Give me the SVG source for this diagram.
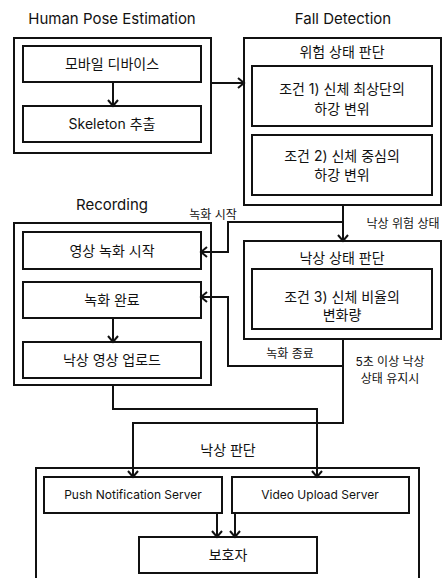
<svg xmlns="http://www.w3.org/2000/svg" width="446" height="578" viewBox="0 0 446 578">
  <style>
    .box { fill: #fff; stroke: #111; stroke-width: 2; }
    .grp { fill: none; stroke: #111; stroke-width: 2; }
    .wire { fill: none; stroke: #111; stroke-width: 2; }
    text { font-family: "Inter", "Noto Sans CJK KR", sans-serif; fill: #111; text-anchor: middle; }
    .h { font-size: 15px; }
    .t { font-size: 14px; }
    .s { font-size: 12px; }
  </style>
  <defs>
    <marker id="arr" markerWidth="12" markerHeight="12" refX="10" refY="6" orient="auto" markerUnits="userSpaceOnUse">
      <path d="M4,1 L10,6 L4,11" fill="none" stroke="#111" stroke-width="2"/>
    </marker>
  </defs>

  <rect width="446" height="578" fill="#fff"/>

  <!-- Human Pose Estimation -->
  <g id="hpe">
    <text class="h" x="112" y="24">Human Pose Estimation</text>
    <rect class="grp" x="14" y="38" width="197" height="115"/>
  </g>
  <g id="mobile">
    <rect class="box" x="23" y="46" width="178" height="36"/>
    <text class="t" x="112" y="69">모바일 디바이스</text>
  </g>
  <g id="skeleton">
    <rect class="box" x="23" y="106" width="178" height="36"/>
    <text class="t" x="112" y="129">Skeleton 추출</text>
  </g>

  <!-- Fall Detection -->
  <g id="fall-detection">
    <text class="h" x="343" y="24">Fall Detection</text>
    <rect class="grp" x="244" y="38" width="197" height="167"/>
    <text class="t" x="342" y="57">위험 상태 판단</text>
  </g>
  <g id="cond1">
    <rect class="box" x="252" y="66" width="180" height="60"/>
    <text class="t" x="342" y="94">조건 1) 신체 최상단의</text>
    <text class="t" x="342" y="114">하강 변위</text>
  </g>
  <g id="cond2">
    <rect class="box" x="252" y="135" width="180" height="60"/>
    <text class="t" x="342" y="161">조건 2) 신체 중심의</text>
    <text class="t" x="342" y="180">하강 변위</text>
  </g>

  <!-- Fall state judgement -->
  <g id="fall-state">
    <rect class="grp" x="244" y="241" width="197" height="98"/>
    <text class="t" x="342" y="263">낙상 상태 판단</text>
  </g>
  <g id="cond3">
    <rect class="box" x="252" y="269" width="180" height="60"/>
    <text class="t" x="342" y="302">조건 3) 신체 비율의</text>
    <text class="t" x="342" y="320">변화량</text>
  </g>

  <!-- Recording -->
  <g id="recording">
    <text class="h" x="112" y="210">Recording</text>
    <rect class="grp" x="14" y="223" width="197" height="162"/>
  </g>
  <g id="rec-start">
    <rect class="box" x="23" y="232" width="178" height="37"/>
    <text class="t" x="112" y="256">영상 녹화 시작</text>
  </g>
  <g id="rec-done">
    <rect class="box" x="23" y="282" width="178" height="36"/>
    <text class="t" x="112" y="305">녹화 완료</text>
  </g>
  <g id="upload">
    <rect class="box" x="23" y="342" width="178" height="36"/>
    <text class="t" x="112" y="365">낙상 영상 업로드</text>
  </g>

  <!-- Fall decision -->
  <g id="decision">
    <text class="t" x="228" y="455">낙상 판단</text>
    <rect class="grp" x="36" y="468" width="383" height="125"/>
  </g>
  <g id="push">
    <rect class="box" x="44" y="477" width="178" height="36"/>
    <text class="s" x="133" y="499">Push Notification Server</text>
  </g>
  <g id="video">
    <rect class="box" x="232" y="477" width="177" height="36"/>
    <text class="s" x="320" y="499">Video Upload Server</text>
  </g>
  <g id="guardian">
    <rect class="box" x="139" y="537" width="178" height="36"/>
    <text class="t" x="228" y="560">보호자</text>
  </g>

  <!-- Connectors -->
  <g id="connectors">
    <path class="wire" d="M113,82 V106" marker-end="url(#arr)"/>
    <path class="wire" d="M211,83 H244" marker-end="url(#arr)"/>
    <path class="wire" d="M343,205 V241" marker-end="url(#arr)"/>
    <path class="wire" d="M343,222 H228 V252 H201" marker-end="url(#arr)"/>
    <path class="wire" d="M113,318 V342" marker-end="url(#arr)"/>
    <path class="wire" d="M343,339 V423 H133 V477" marker-end="url(#arr)"/>
    <path class="wire" d="M343,366 H228 V297 H201" marker-end="url(#arr)"/>
    <path class="wire" d="M113,385 V409 H317 V477" marker-end="url(#arr)"/>
    <path class="wire" d="M217,513 V537" marker-end="url(#arr)"/>
    <path class="wire" d="M235,513 V537" marker-end="url(#arr)"/>
  </g>

  <!-- Connector labels -->
  <g id="labels">
    <text class="s" x="213" y="219">녹화 시작</text>
    <text class="s" x="403" y="228">낙상 위험 상태</text>
    <text class="s" x="290" y="358">녹화 종료</text>
    <text class="s" x="390" y="366">5초 이상 낙상</text>
    <text class="s" x="390" y="383">상태 유지시</text>
  </g>
</svg>
